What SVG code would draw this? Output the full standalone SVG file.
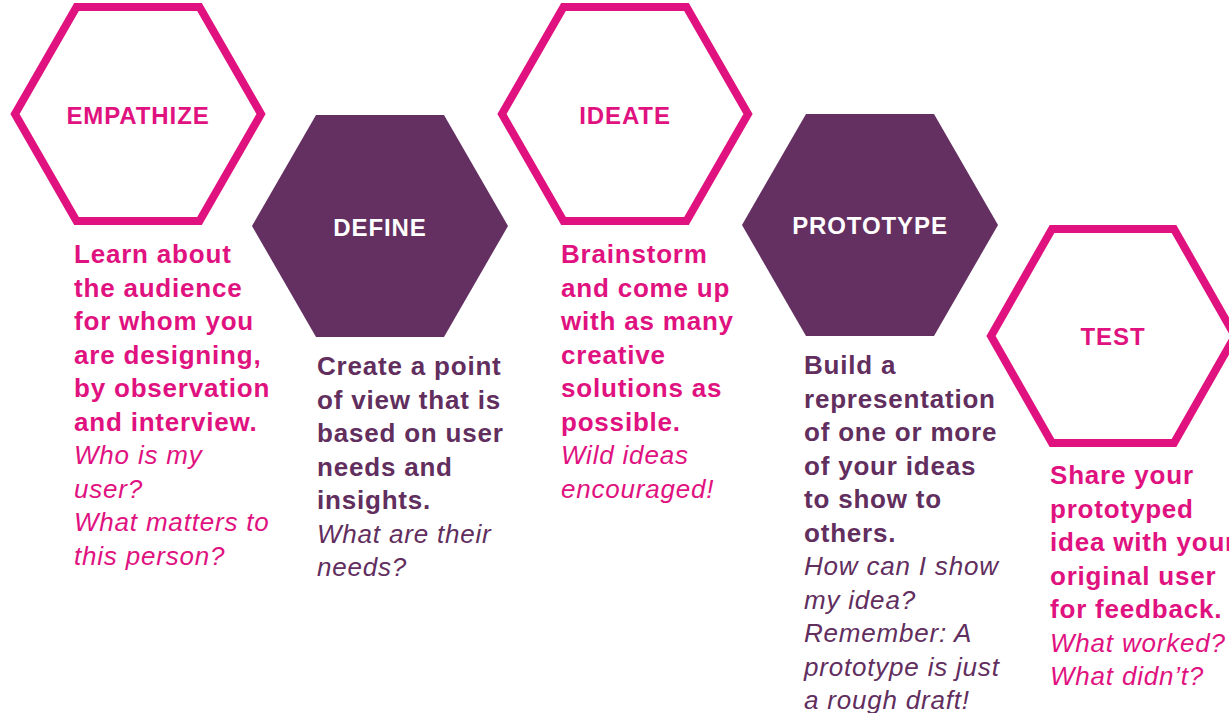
<svg xmlns="http://www.w3.org/2000/svg" width="1229" height="713" viewBox="0 0 1229 713">
<style>
.hexo{fill:#ffffff;stroke:#E0127F;stroke-width:8;stroke-linejoin:miter}
.hexf{fill:#642F61}
.t{font-family:"Liberation Sans",Arial,sans-serif;font-weight:bold;font-size:24px;letter-spacing:0.9px;text-anchor:middle}
.tp{fill:#E0127F}
.tw{fill:#ffffff}
.b{font-family:"Liberation Sans",Arial,sans-serif;font-size:26px;letter-spacing:0.8px}
.bb{font-weight:bold}
.it{font-style:italic;font-weight:normal}
.pk{fill:#E0127F}
.pu{fill:#612E5E}
</style>
<rect width="1229" height="713" fill="#ffffff"/>
<g id="connectors"></g>
<g id="empathize">
<polygon class="hexo" points="76.5,7 199.5,7 261,114 199.5,221 76.5,221 15,114"/>
<text class="t tp" x="138" y="123.5">EMPATHIZE</text>
<text class="b pk" x="74">
<tspan class="bb" x="74" y="263">Learn about</tspan>
<tspan class="bb" x="74" y="296.5">the audience</tspan>
<tspan class="bb" x="74" y="330">for whom you</tspan>
<tspan class="bb" x="74" y="363.5">are designing,</tspan>
<tspan class="bb" x="74" y="397">by observation</tspan>
<tspan class="bb" x="74" y="430.5">and interview.</tspan>
<tspan class="it" x="74" y="464">Who is my</tspan>
<tspan class="it" x="74" y="497.5">user?</tspan>
<tspan class="it" x="74" y="531">What matters to</tspan>
<tspan class="it" x="74" y="564.5">this person?</tspan>
</text>
</g>
<g id="define">
<polygon class="hexf" points="316,115 444,115 508,226 444,337 316,337 252,226"/>
<text class="t tw" x="380" y="235.5">DEFINE</text>
<text class="b pu" x="317">
<tspan class="bb" x="317" y="375">Create a point</tspan>
<tspan class="bb" x="317" y="408.5">of view that is</tspan>
<tspan class="bb" x="317" y="442">based on user</tspan>
<tspan class="bb" x="317" y="475.5">needs and</tspan>
<tspan class="bb" x="317" y="509">insights.</tspan>
<tspan class="it" x="317" y="542.5">What are their</tspan>
<tspan class="it" x="317" y="576">needs?</tspan>
</text>
</g>
<g id="ideate">
<polygon class="hexo" points="563.5,7 686.5,7 748,114 686.5,221 563.5,221 502,114"/>
<text class="t tp" x="625" y="123.5">IDEATE</text>
<text class="b pk" x="561">
<tspan class="bb" x="561" y="263">Brainstorm</tspan>
<tspan class="bb" x="561" y="296.5">and come up</tspan>
<tspan class="bb" x="561" y="330">with as many</tspan>
<tspan class="bb" x="561" y="363.5">creative</tspan>
<tspan class="bb" x="561" y="397">solutions as</tspan>
<tspan class="bb" x="561" y="430.5">possible.</tspan>
<tspan class="it" x="561" y="464">Wild ideas</tspan>
<tspan class="it" x="561" y="497.5">encouraged!</tspan>
</text>
</g>
<g id="prototype">
<polygon class="hexf" points="806,114 934,114 998,225 934,336 806,336 742,225"/>
<text class="t tw" x="870" y="234">PROTOTYPE</text>
<text class="b pu" x="804">
<tspan class="bb" x="804" y="374">Build a</tspan>
<tspan class="bb" x="804" y="407.5">representation</tspan>
<tspan class="bb" x="804" y="441">of one or more</tspan>
<tspan class="bb" x="804" y="474.5">of your ideas</tspan>
<tspan class="bb" x="804" y="508">to show to</tspan>
<tspan class="bb" x="804" y="541.5">others.</tspan>
<tspan class="it" x="804" y="575">How can I show</tspan>
<tspan class="it" x="804" y="608.5">my idea?</tspan>
<tspan class="it" x="804" y="642">Remember: A</tspan>
<tspan class="it" x="804" y="675.5">prototype is just</tspan>
<tspan class="it" x="804" y="709">a rough draft!</tspan>
</text>
</g>
<g id="test">
<polygon class="hexo" points="1052,229 1174,229 1235,336 1174,443 1052,443 991,336"/>
<text class="t tp" x="1113" y="345">TEST</text>
<text class="b pk" x="1050">
<tspan class="bb" x="1050" y="484">Share your</tspan>
<tspan class="bb" x="1050" y="517.5">prototyped</tspan>
<tspan class="bb" x="1050" y="551">idea with your</tspan>
<tspan class="bb" x="1050" y="584.5">original user</tspan>
<tspan class="bb" x="1050" y="618">for feedback.</tspan>
<tspan class="it" x="1050" y="651.5">What worked?</tspan>
<tspan class="it" x="1050" y="685">What didn’t?</tspan>
</text>
</g>
</svg>
